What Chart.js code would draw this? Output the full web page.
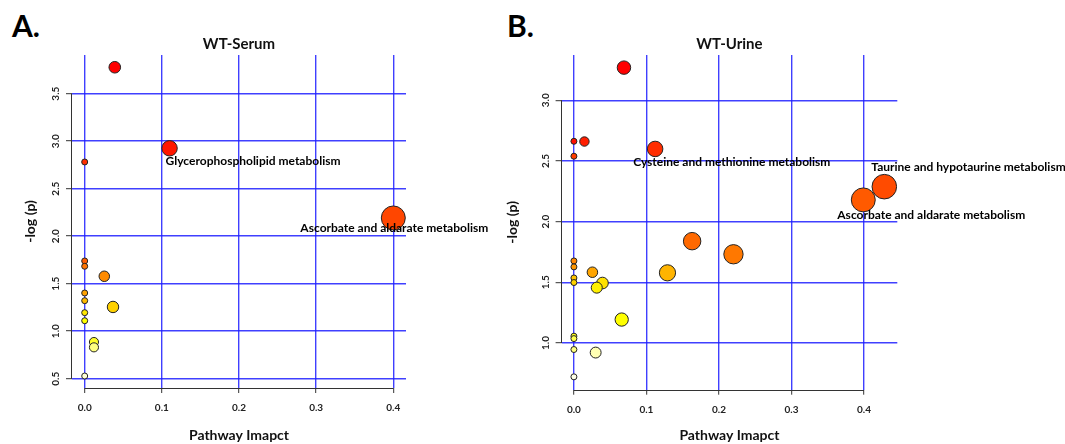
<!DOCTYPE html>
<html>
<head>
<meta charset="utf-8">
<script src="https://cdn.jsdelivr.net/npm/chart.js@4"></script>
<style>
  body { margin: 0; background: #fff; }
  #wrap { position: relative; width: 1065px; height: 444px; overflow: hidden; }
  .tag { position: absolute; top: 10px; font: bold 30px Lato, sans-serif; line-height: 1; color: #000; }
  canvas { position: absolute; top: 0; }
</style>
</head>
<body>
<div id="wrap">
  <div class="tag" style="left:12px">A.</div>
  <div class="tag" style="left:507px">B.</div>
  <canvas id="serum" width="500" height="444" style="left:0"></canvas>
  <canvas id="urine" width="565" height="444" style="left:500px"></canvas>
</div>
<script>
// tick values
const impactTicks = [0, 0.1, 0.2, 0.3, 0.4];
const serumLogTicks = [0.5, 1.0, 1.5, 2.0, 2.5, 3.0, 3.5];
const urineLogTicks = [1.0, 1.5, 2.0, 2.5, 3.0];

// WT-Serum pathways: impact (x) and -log(p) (y)
const serumImpact = [0.039, 0.110, 0, 0.400, 0, 0, 0.0254, 0, 0, 0.0367, 0, 0, 0.012, 0.012, 0];
const serumLogP   = [3.778, 2.925, 2.781, 2.192, 1.739, 1.683, 1.578, 1.402, 1.321, 1.255, 1.195, 1.110, 0.886, 0.830, 0.528];
const serumNames  = { 1: 'Glycerophospholipid metabolism', 3: 'Ascorbate and aldarate metabolism' };

// WT-Urine pathways
const urineImpact = [0.069, 0, 0.0145, 0.112, 0, 0.428, 0.399, 0.163, 0.220, 0, 0, 0.129, 0.0255, 0, 0, 0.0394, 0.0315, 0.0659, 0, 0, 0, 0.030, 0];
const urineLogP   = [3.269, 2.662, 2.660, 2.599, 2.539, 2.288, 2.179, 1.839, 1.731, 1.676, 1.627, 1.578, 1.583, 1.536, 1.498, 1.494, 1.456, 1.193, 1.056, 1.036, 0.946, 0.921, 0.721];
const urineNames  = { 3: 'Cysteine and methionine metabolism', 5: 'Taurine and hypotaurine metabolism', 6: 'Ascorbate and aldarate metabolism' };

const FONT = 'Lato, "Open Sans", sans-serif';

function hsv(h, s) {
  // v = 1, h within [0, 1/6]
  const f = h * 6;
  const r = 255, g = Math.round(255 * (1 - s * (1 - f))), b = Math.round(255 * (1 - s));
  return `rgb(${r},${g},${b})`;
}

// same ramp as R's heat.colors()
function heatColors(n) {
  const j = Math.floor(n / 4), i = n - j;
  const out = [];
  for (let k = 0; k < i; k++) out.push(hsv((k / (i - 1)) / 6, 1));
  for (let k = 0; k < j; k++) {
    const s = j > 1 ? (1 - 1 / (2 * j)) - k * (1 - 1 / j) / (j - 1) : 0.5;
    out.push(hsv(1 / 6, s));
  }
  return out;
}

function colorsByRank(vals) {
  const heat = heatColors(vals.length);
  const order = vals.map((v, i) => i).sort((a, b) => vals[b] - vals[a]);
  const cols = [];
  order.forEach((idx, rank) => { cols[idx] = heat[rank]; });
  return cols;
}

function axisLines(xTicks, yTicks) {
  return {
    id: 'axisLines',
    beforeDatasetsDraw(chart) {
      const { ctx, chartArea, scales: { x, y } } = chart;
      ctx.save();
      ctx.strokeStyle = '#333';
      ctx.lineWidth = 1;
      ctx.beginPath();
      const yb = Math.round(chartArea.bottom) + 0.5;
      ctx.moveTo(x.getPixelForValue(xTicks[0]), yb);
      ctx.lineTo(x.getPixelForValue(xTicks[xTicks.length - 1]), yb);
      const xl = Math.round(chartArea.left) - 0.5;
      ctx.moveTo(xl, y.getPixelForValue(yTicks[0]));
      ctx.lineTo(xl, y.getPixelForValue(yTicks[yTicks.length - 1]));
      ctx.stroke();
      ctx.restore();
    }
  };
}

function pathwayLabels(names, xs, ys, place) {
  return {
    id: 'pathwayLabels',
    afterDatasetsDraw(chart) {
      const { ctx, scales: { x, y } } = chart;
      ctx.save();
      ctx.font = `bold 12px ${FONT}`;
      ctx.fillStyle = '#000';
      ctx.textBaseline = 'middle';
      Object.keys(names).forEach(k => {
        const p = place[k];
        ctx.textAlign = p.align;
        ctx.fillText(names[k], x.getPixelForValue(xs[k]) + p.dx, y.getPixelForValue(ys[k]) + p.dy);
      });
      ctx.restore();
    }
  };
}

function makeChart(id, cfg) {
  const blue = 'rgba(30,30,255,0.85)';
  const pts = cfg.xs.map((v, i) => ({ x: v, y: cfg.ys[i] }));
  return new Chart(document.getElementById(id), {
    type: 'scatter',
    data: {
      datasets: [{
        data: pts,
        backgroundColor: colorsByRank(cfg.ys),
        borderColor: '#222',
        borderWidth: 1,
        pointRadius: ctx => 3 + 14.2 * Math.sqrt(Math.abs(ctx.raw.x)),
        pointHoverRadius: ctx => 3 + 14.2 * Math.sqrt(Math.abs(ctx.raw.x)),
      }],
    },
    options: {
      responsive: false,
      animation: false,
      devicePixelRatio: 1,
      layout: { padding: { left: 0, top: 28, right: cfg.padRight, bottom: 0 } },
      plugins: {
        legend: { display: false },
        tooltip: { enabled: false },
        title: {
          display: true, text: cfg.title, fullSize: false, color: '#111',
          font: { family: FONT, size: 15, weight: 'bold' },
          padding: { top: 7, bottom: 55 - 28 - 7 - 18 },
        },
      },
      scales: {
        x: {
          type: 'linear', position: 'bottom',
          min: cfg.xMin, max: cfg.xMax,
          afterBuildTicks: s => { s.ticks = impactTicks.map(v => ({ value: v })); },
          afterFit: s => { s.height = cfg.xHeight; },
          ticks: { callback: v => v.toFixed(1), color: '#222', padding: 9,
                   font: { family: FONT, size: 10, weight: 'bold' } },
          grid: { color: blue, lineWidth: 1.4, tickLength: 5, tickColor: '#333', tickWidth: 1 },
          border: { display: false },
          title: { display: true, text: 'Pathway Imapct', color: '#111',
                   font: { family: FONT, size: 14, weight: 'bold' }, padding: { top: 0, bottom: 0 } },
        },
        y: {
          type: 'linear', position: 'left',
          min: cfg.yMin, max: cfg.yMax,
          afterBuildTicks: s => { s.ticks = cfg.yTicks.map(v => ({ value: v })); },
          afterFit: s => { s.width = cfg.yWidth; },
          ticks: { callback: v => v.toFixed(1), color: '#222', padding: 3,
                   minRotation: 90, maxRotation: 90, crossAlign: 'center',
                   font: { family: FONT, size: 10, weight: 'bold' } },
          grid: { color: blue, lineWidth: 1.4, tickLength: 6, tickColor: '#333', tickWidth: 1 },
          border: { display: false },
          title: { display: true, text: '-log (p)', color: '#111',
                   font: { family: FONT, size: 14, weight: 'bold' }, padding: { top: cfg.yTitlePad } },
        },
      },
    },
    plugins: [axisLines(impactTicks, cfg.yTicks), pathwayLabels(cfg.names, cfg.xs, cfg.ys, cfg.place)],
  });
}

makeChart('serum', {
  title: 'WT-Serum', xs: serumImpact, ys: serumLogP, names: serumNames, yTicks: serumLogTicks,
  xMin: -0.01645, xMax: 0.41645, yMin: 0.402, yMax: 3.907,
  yWidth: 72, xHeight: 56, padRight: 94, yTitlePad: 22,
  place: { 1: { align: 'left', dx: -4, dy: 13 }, 3: { align: 'center', dx: 1, dy: 10 } },
});

makeChart('urine', {
  title: 'WT-Urine', xs: urineImpact, ys: urineLogP, names: urineNames, yTicks: urineLogTicks,
  xMin: -0.01697, xMax: 0.4459, yMin: 0.615, yMax: 3.373,
  yWidth: 61.6, xHeight: 54.3, padRight: 167.7, yTitlePad: 4,
  place: { 3: { align: 'left', dx: -22, dy: 13 }, 5: { align: 'left', dx: -13, dy: -20 }, 6: { align: 'left', dx: -26, dy: 15 } },
});
</script>
</body>
</html>
